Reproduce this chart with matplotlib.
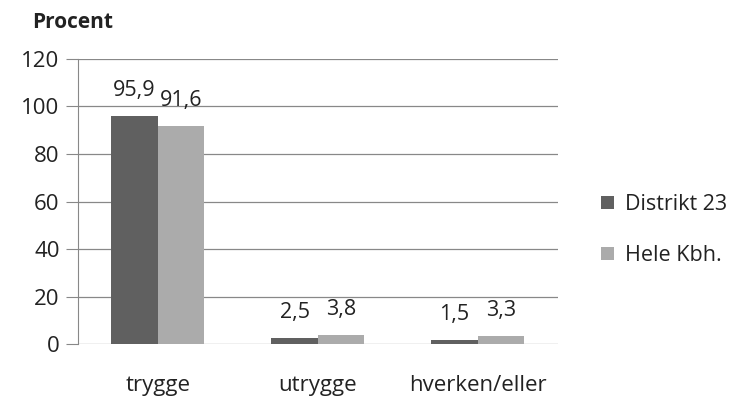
import numpy as np
import matplotlib
matplotlib.use('Agg')
from matplotlib import pyplot as plt

plt.rcParams['font.family'] = ['Open Sans', 'DejaVu Sans']

# data
categories = ['trygge', 'utrygge', 'hverken/eller']
series_names = ['Distrikt 23', 'Hele Kbh.']
distrikt = [95.9, 2.5, 1.5]
hele = [91.6, 3.8, 3.3]
colors = ['#606060', '#ababab']

fig = plt.figure(figsize=(7.33, 4.01), dpi=100)
ax = fig.add_axes([0.106, 0.142, 0.655, 0.711])

x = np.arange(len(categories))
w = 0.29
for i, vals in enumerate([distrikt, hele]):
    b = ax.bar(x + (i - 0.5) * w, vals, w, color=colors[i], label=series_names[i], zorder=3)
    for rect, v in zip(b, vals):
        ax.annotate(('%.1f' % v).replace('.', ','),
                    (rect.get_x() + rect.get_width() / 2, rect.get_height()),
                    xytext=(0, 11), textcoords='offset points',
                    ha='center', va='bottom', fontsize=15.5, color='#222222')

ax.set_xlim(-0.5, 2.5)
ax.set_ylim(0, 120)
ax.set_yticks(range(0, 121, 20))
ax.set_xticks(x)
ax.set_xticklabels(categories)
ax.yaxis.grid(True, color='#888888', linewidth=0.9, zorder=0)
for s in ['top', 'right', 'bottom']:
    ax.spines[s].set_visible(False)
ax.spines['left'].set_color('#888888')
ax.tick_params(axis='y', length=9, color='#888888', labelsize=16, pad=4, labelcolor='#222222')
ax.tick_params(axis='x', length=0, labelsize=16, pad=22, labelcolor='#222222')

fig.text(0.044, 0.943, 'Procent', fontsize=15, fontweight='bold', ha='left', va='center', color='#222222')

ax.legend(loc='center left', bbox_to_anchor=(1.05, 0.40), frameon=False, fontsize=15.5,
          handlelength=0.6, handleheight=0.6, handletextpad=0.5, labelspacing=1.4,
          labelcolor='#222222')

plt.savefig('out.png', dpi=100)
